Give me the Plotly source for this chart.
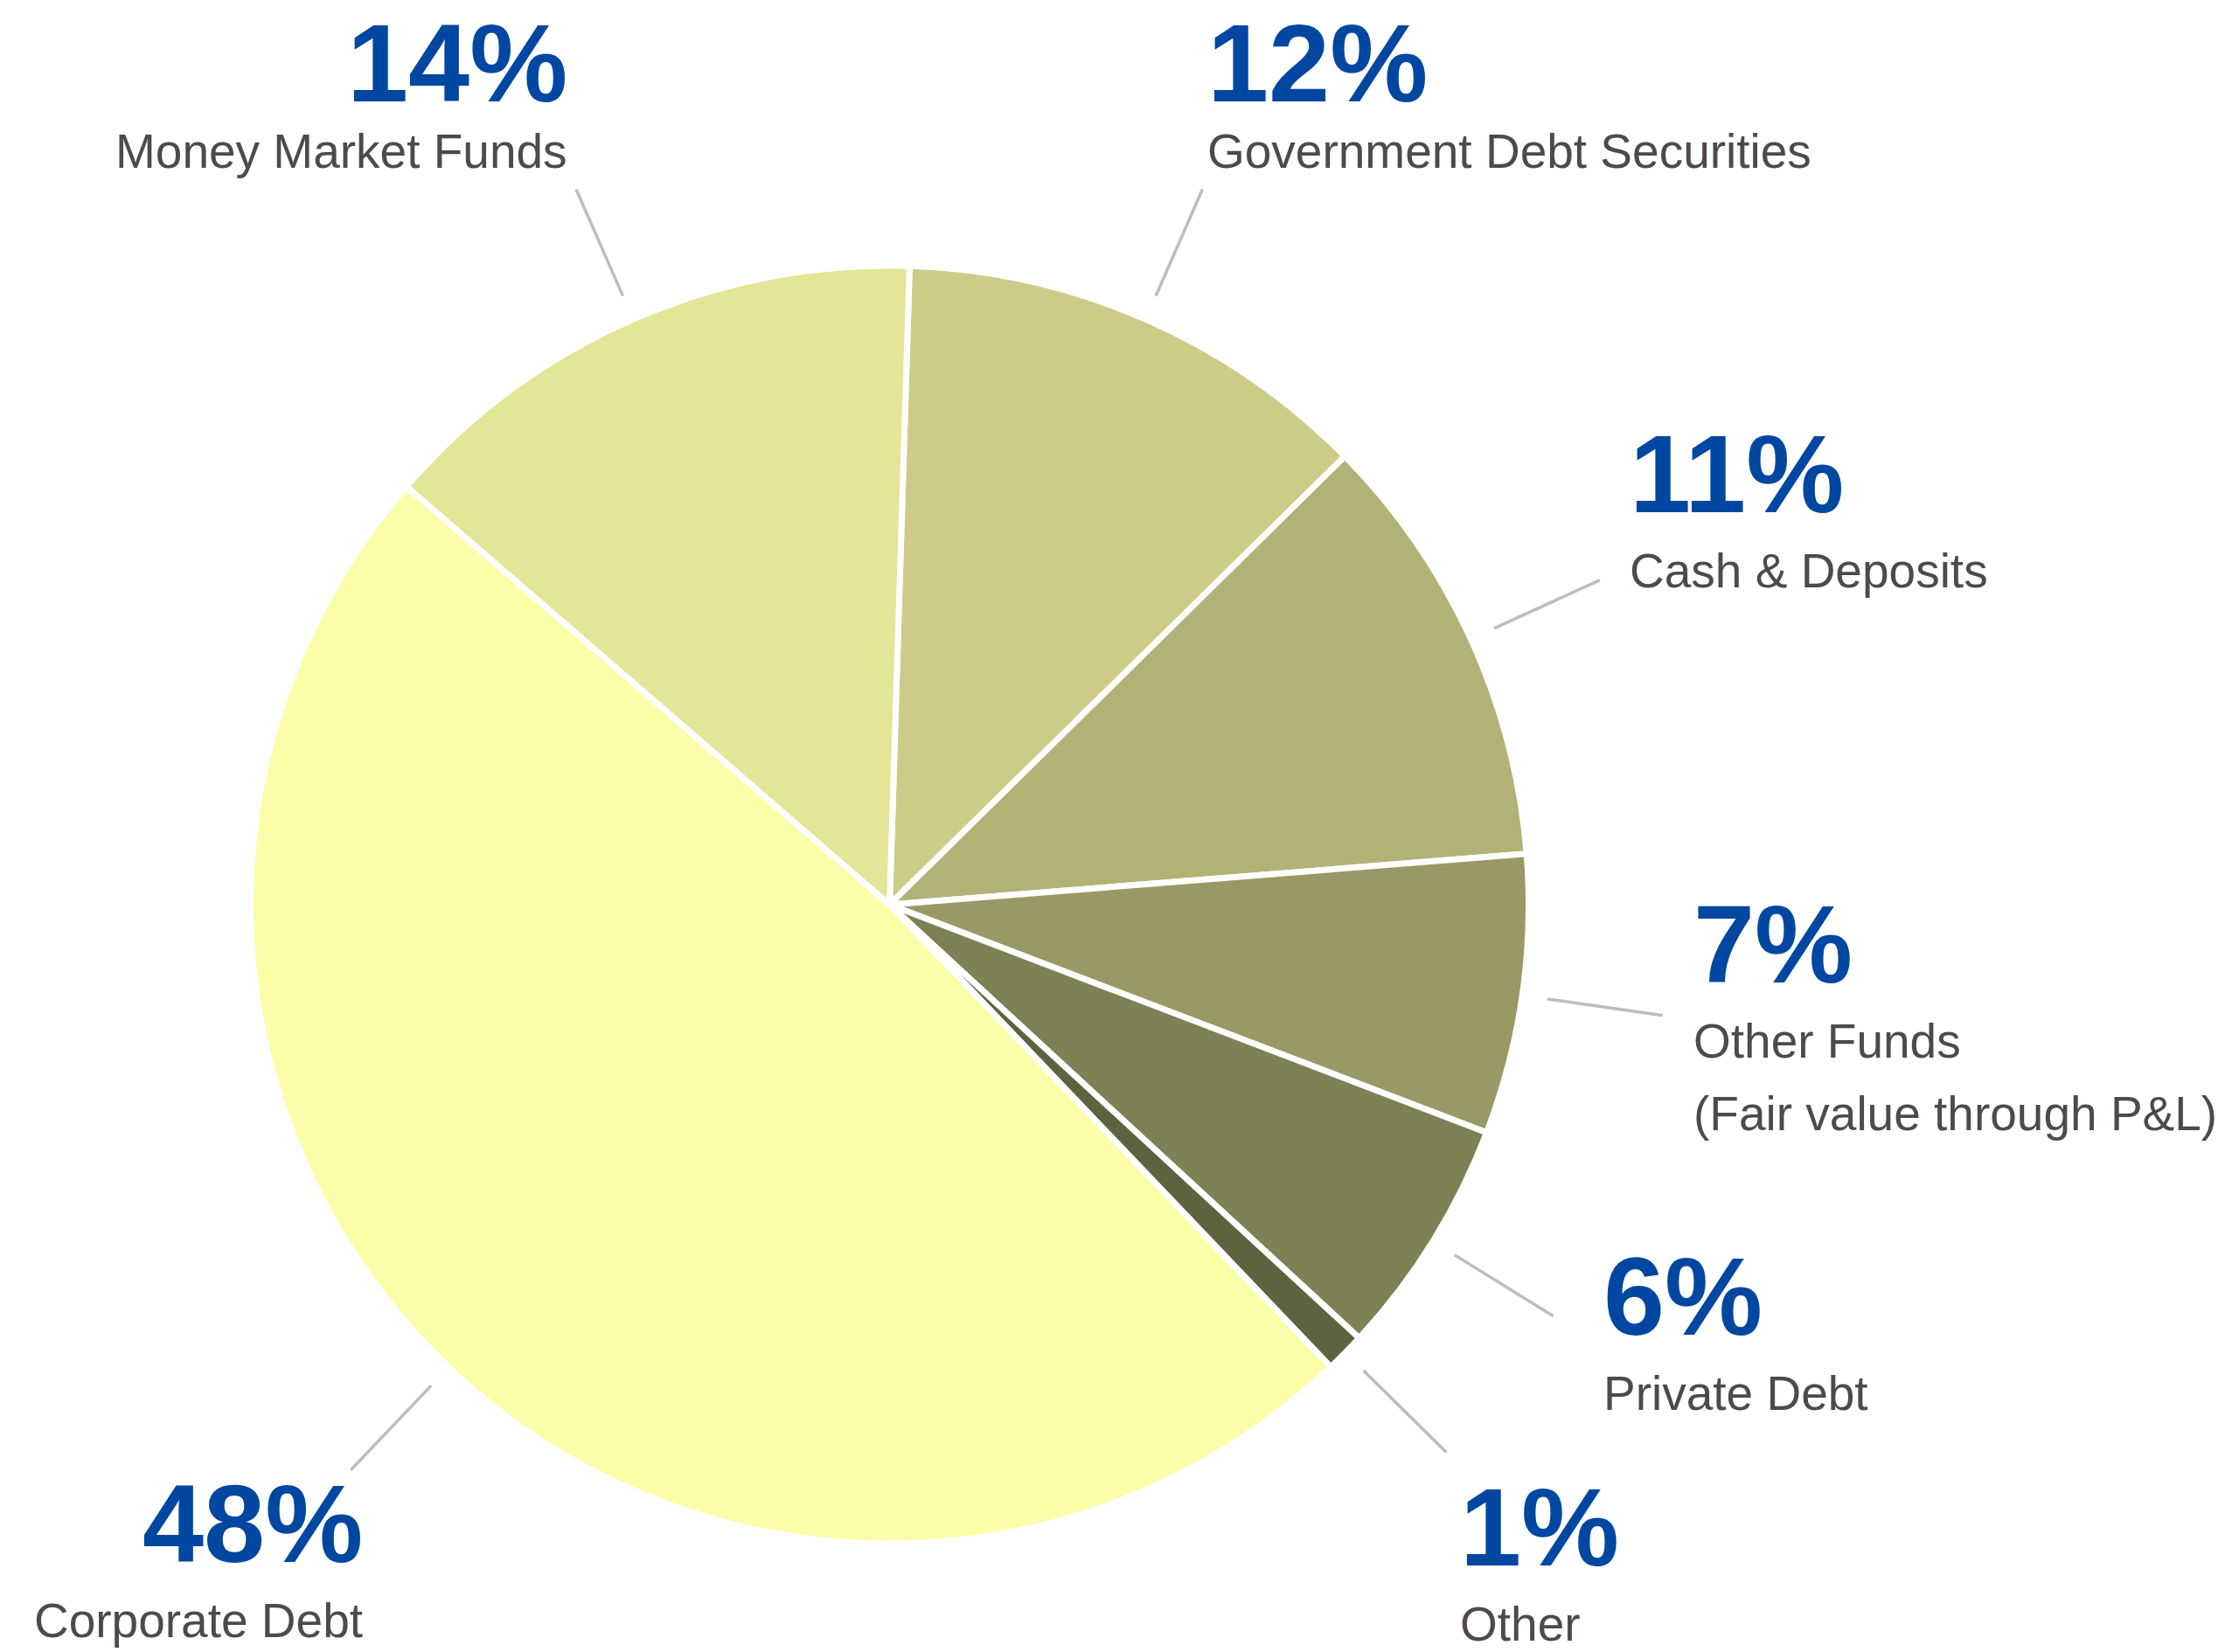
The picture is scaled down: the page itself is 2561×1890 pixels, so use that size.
import math
import plotly.graph_objects as go

# Portfolio composition (percent of total)
categories = [
    "Government Debt Securities",
    "Cash & Deposits",
    "Other Funds<br>(Fair value through P&L)",
    "Private Debt",
    "Other",
    "Corporate Debt",
    "Money Market Funds",
]
shares = [12, 11, 7, 6, 1, 48, 14]
colors = ["#CCCC88", "#B2B277", "#999966", "#7E8055", "#5E623E", "#FCFDA8", "#E3E597"]

# Canvas and pie geometry (pixels)
W, H = 2561, 1890
CX, CY, R = 1017.5, 1035, 731
ROTATION = 1.8

# Label placement relative to the outer end of each leader line:
# (alignment, horizontal offset to text edge, vertical offset to the percent baseline,
#  gap between the percent baseline and the first name baseline)
label_layout = [
    ("left", 4, -100, 76),
    ("left", 32, -78, 86),
    ("left", 33, -38, 86),
    ("left", 55, 21, 86),
    ("left", 14, 130, 86),
    ("right", 16, 105, 86),
    ("right", -8, -101, 76),
]

PCT_SIZE, NAME_SIZE = 126, 55
LINE_GAP = 83
FONT = "Liberation Sans, Arial, Helvetica, sans-serif"
PCT_COLOR, NAME_COLOR = "#0047A1", "#4D4A47"
LEADER_IN, LEADER_OUT = 1.04, 1.222


def px_to_paper(x, y):
    return x / W, 1 - y / H


def baseline_to_center(baseline, size):
    # annotation boxes are centred on the glyph box (ascent 0.905em, descent 0.212em)
    return baseline - 0.3465 * size


fig = go.Figure(
    go.Pie(
        values=shares,
        labels=categories,
        marker=dict(colors=colors, line=dict(color="white", width=7)),
        sort=False,
        direction="clockwise",
        rotation=ROTATION,
        textinfo="none",
        hoverinfo="label+percent",
        showlegend=False,
        domain=dict(
            x=[(CX - R) / W, (CX + R) / W],
            y=[(H - CY - R) / H, (H - CY + R) / H],
        ),
    )
)

total = sum(shares)
cum = 0
shapes, annotations = [], []
for name, v, (align, dx, dy, gap) in zip(categories, shares, label_layout):
    mid = math.radians(ROTATION + (cum + v / 2) / total * 360)
    cum += v
    sx, sy = CX + LEADER_IN * R * math.sin(mid), CY - LEADER_IN * R * math.cos(mid)
    ex, ey = CX + LEADER_OUT * R * math.sin(mid), CY - LEADER_OUT * R * math.cos(mid)
    x0, y0 = px_to_paper(sx, sy)
    x1, y1 = px_to_paper(ex, ey)
    shapes.append(dict(type="line", xref="paper", yref="paper", x0=x0, y0=y0, x1=x1, y1=y1,
                       line=dict(color="#BDBDBD", width=3.5)))

    tx = ex + dx
    base = ey + dy
    lines = [(f"{v}%", PCT_SIZE, PCT_COLOR, "bold", base)]
    for i, part in enumerate(name.split("<br>")):
        lines.append((part, NAME_SIZE, NAME_COLOR, "normal", base + gap + i * LINE_GAP))
    for text, size, color, weight, bl in lines:
        ax, ay = px_to_paper(tx, baseline_to_center(bl, size))
        annotations.append(dict(
            text=text, x=ax, y=ay, xref="paper", yref="paper",
            xanchor=align, yanchor="middle", showarrow=False,
            font=dict(family=FONT, size=size, color=color, weight=weight),
        ))

fig.update_layout(
    width=W, height=H,
    margin=dict(l=0, r=0, t=0, b=0),
    paper_bgcolor="white", plot_bgcolor="white",
    shapes=shapes, annotations=annotations,
)

fig.write_html("out.html")
